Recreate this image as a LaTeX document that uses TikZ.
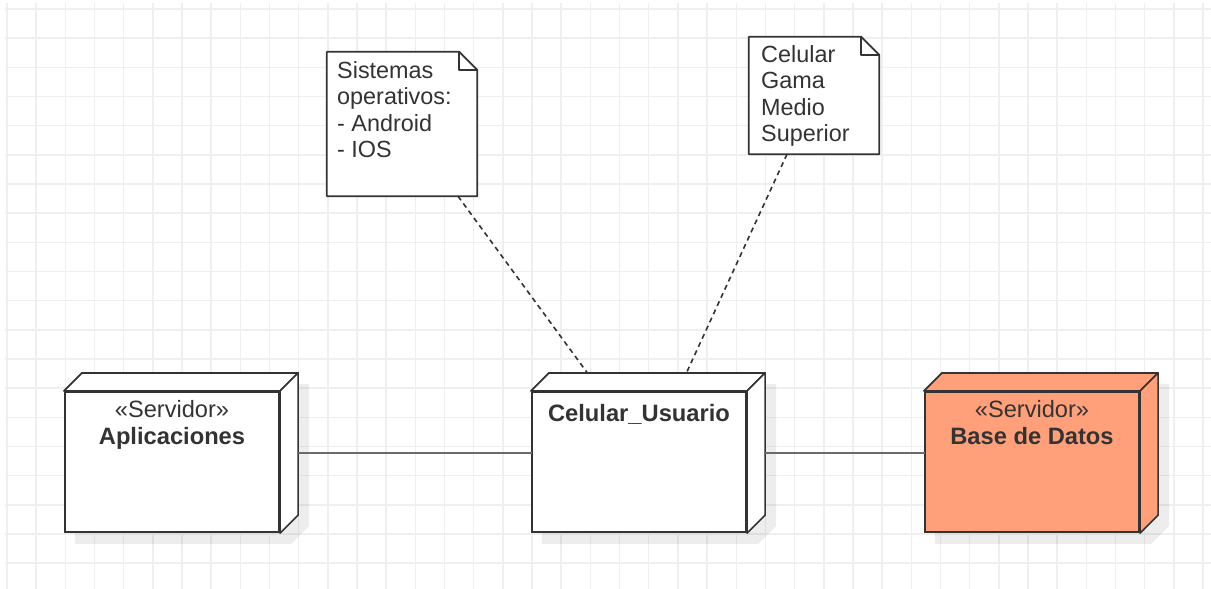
\documentclass[tikz,border=0pt]{standalone}
\usepackage{fontspec}
\setmainfont{Liberation Sans}
\usetikzlibrary{calc}

\definecolor{gridc}{HTML}{EFEFEF}
\definecolor{ink}{HTML}{333333}
\definecolor{salmon}{HTML}{FFA07A}
\definecolor{edgec}{HTML}{6A6A6A}

\pgfdeclarelayer{back}
\pgfsetlayers{back,main}

\tikzset{
  gridline/.style={draw=gridc, line width=1.5pt},
  frontface/.style={draw=ink, line width=2.2pt, minimum width=214pt, minimum height=140pt, inner sep=0pt},
  nodebounds/.style={minimum width=232pt, minimum height=158pt, inner sep=0pt},
  facepart/.style={draw=ink, line width=1.7pt, line join=round},
  notebox/.style={minimum width=#1, inner sep=0pt},
  notetext/.style={anchor=north west, inner sep=0pt, align=left, text=ink,
    font=\fontsize{23.4}{26.2}\selectfont},
  labelbase/.style={anchor=base, inner sep=0pt, text=ink},
  stereotype/.style={labelbase, font=\fontsize{23.6}{26}\selectfont},
  nodetitle/.style={labelbase, font=\fontsize{23.7}{26}\selectfont\bfseries},
  link/.style={draw=edgec, line width=2.8pt},
  anchorlink/.style={draw=ink, line width=1.6pt, dash pattern=on 5pt off 4pt},
}

% shadow of a 3D deployment node, given its front face
\newcommand\nodeshade[1]{%
  \fill[black, opacity=0.07]
    ([shift={(11pt,-11pt)}]#1.south west) -- ([shift={(11pt,-11pt)}]#1.north west)
    -- ([shift={(29pt,7pt)}]#1.north west) -- ([shift={(29pt,7pt)}]#1.north east)
    -- ([shift={(29pt,7pt)}]#1.south east) -- ([shift={(11pt,-11pt)}]#1.south east) -- cycle;}
% top face and side face of a 3D deployment node
\newcommand\nodefaces[2]{%
  \filldraw[facepart, fill=#2] (#1.north west) -- ([shift={(18pt,18pt)}]#1.north west)
    -- ([shift={(18pt,18pt)}]#1.north east) -- (#1.north east) -- cycle;
  \filldraw[facepart, fill=#2] (#1.north east) -- ([shift={(18pt,18pt)}]#1.north east)
    -- ([shift={(18pt,18pt)}]#1.south east) -- (#1.south east) -- cycle;}
% folded-corner note outline
\newcommand\noteshape[1]{%
  \filldraw[facepart, fill=white] (#1.north west) -- ([xshift=-18pt]#1.north east)
    -- ([yshift=-18pt]#1.north east) -- (#1.south east) -- (#1.south west) -- cycle;
  \draw[facepart] ([xshift=-18pt]#1.north east) -- ([shift={(-18pt,-18pt)}]#1.north east)
    -- ([yshift=-18pt]#1.north east);}

\begin{document}
\begin{tikzpicture}[x=1pt, y=-1pt]
  \useasboundingbox (0,0) rectangle (1211,589);

  % background grid
  \begin{pgfonlayer}{back}
    \fill[white] (0,0) rectangle (1211,589);
    \foreach \i in {0,...,41}
      \draw[gridline] ({7+29.17*\i},3) -- ({7+29.17*\i},589);
    \foreach \j in {0,...,19}
      \draw[gridline] (5,{9+29.17*\j}) -- (1211,{9+29.17*\j});
  \end{pgfonlayer}

  % whole extent of each deployment node, used by the connectors
  \node[nodebounds] (apl) at (181,453) {};
  \node[nodebounds] (cel) at (648,453) {};
  \node[nodebounds] (bd)  at (1041,453) {};

  % front faces
  \node[frontface, fill=white]  (aplf) at (172,462) {};
  \node[frontface, fill=white]  (celf) at (639,462) {};
  \node[frontface, fill=salmon] (bdf)  at (1032,462) {};

  \begin{pgfonlayer}{back}
    \nodeshade{aplf}
    \nodeshade{celf}
    \nodeshade{bdf}
  \end{pgfonlayer}

  \nodefaces{aplf}{white}
  \nodefaces{celf}{white}
  \nodefaces{bdf}{salmon}

  % labels
  \node[stereotype] at ($(aplf.north)+(0,27)$) {«Servidor»};
  \node[nodetitle]  at ($(aplf.north)+(0,54)$) {Aplicaciones};
  \node[nodetitle]  at ($(celf.north)+(0,31)$) {Celular\_Usuario};
  \node[stereotype] at ($(bdf.north)+(0,27)$) {«Servidor»};
  \node[nodetitle]  at ($(bdf.north)+(0,54)$) {Base de Datos};

  % notes
  \node[notebox=150pt, minimum height=144pt] (so)  at (402,124) {};
  \node[notebox=130pt, minimum height=117pt] (gam) at (814,95.5) {};
  \noteshape{so}
  \noteshape{gam}
  \node[notetext] at (337,61.5) {Sistemas\\operativos:\\- Android\\- IOS};
  \node[notetext] at (761,45.5) {Celular\\Gama\\Medio\\Superior};

  % communication paths
  \draw[link] (apl) -- (cel);
  \draw[link] (cel) -- (bd);

  % note anchors
  \draw[anchorlink] ([xshift=56pt]so.south) -- ([xshift=-60pt]cel.north);
  \draw[anchorlink] ([xshift=-27pt]gam.south) -- ([xshift=38pt]cel.north);
\end{tikzpicture}
\end{document}
